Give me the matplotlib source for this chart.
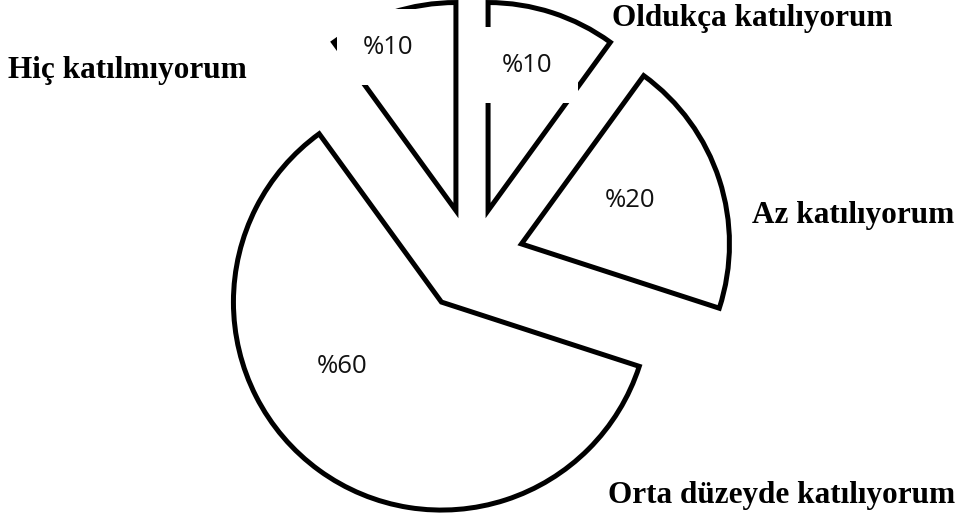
import matplotlib
matplotlib.use("Agg")
import matplotlib.pyplot as plt

# data
categories = ["Oldukça katılıyorum", "Az katılıyorum",
              "Orta düzeyde katılıyorum", "Hiç katılmıyorum"]
values = [10, 20, 60, 10]
pct_labels = ["%10", "%20", "%60", "%10"]

# label placement (data units, pie radius = 1)
pct_pos = [(0.264, 0.9375), (0.760, 0.288), (-0.625, -0.510), (-0.404, 1.024)]
cat_pos = [(0.673, 1.163), (1.346, 0.216), (0.654, -1.130), (-2.231, 0.913)]

fig = plt.figure(figsize=(9.68, 5.18), dpi=100)
ax = fig.add_axes([0, 0, 1, 1])

wedges, _ = ax.pie(values, startangle=90, counterclock=False,
                   explode=[0.25] * len(values), radius=1,
                   colors=["white"] * len(values),
                   wedgeprops=dict(edgecolor="black", linewidth=3.6,
                                   joinstyle="miter"))

for (x, y), lab in zip(pct_pos, pct_labels):
    box = None
    if lab == "%10":
        box = dict(boxstyle="square,pad=1.0", fc="white", ec="none")
    ax.text(x, y, lab, ha="center", va="center", fontsize=18.5,
            family="Open Sans", color="#111111", bbox=box, zorder=5)

for (x, y), lab in zip(cat_pos, categories):
    ax.text(x, y, lab, ha="left", va="center", fontsize=22.5,
            family="Liberation Serif", fontweight="bold", zorder=6)

ax.set_xlim(-472 / 208, (968 - 472) / 208)
ax.set_ylim(-(518 - 260) / 208, 260 / 208)
ax.set_aspect("auto")
ax.axis("off")

fig.savefig("out.png", dpi=100, facecolor="white")
